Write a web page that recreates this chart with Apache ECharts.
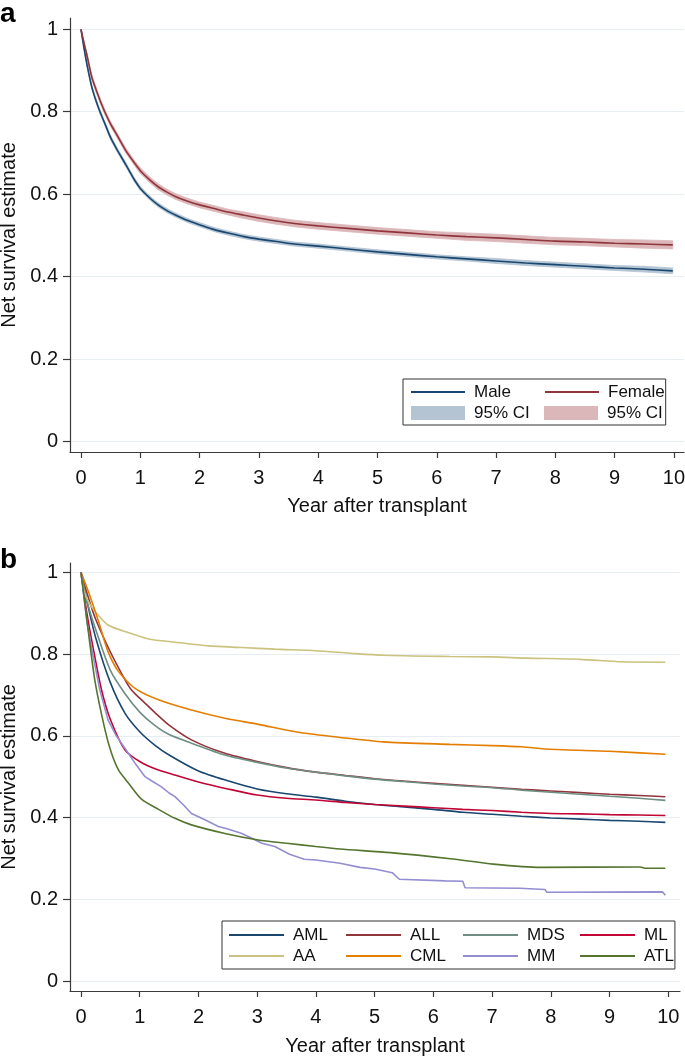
<!DOCTYPE html>
<html><head><meta charset="utf-8">
<script src="https://cdn.jsdelivr.net/npm/echarts@6/dist/echarts.min.js"></script>
<style>html,body{margin:0;padding:0;background:#fff}#c{width:685px;height:1063px}</style>
</head><body><div id="c"></div>
<script>
// ---------- Panel a: sex ----------
const topYears = [0, 0.05, 0.1, 0.18, 0.25, 0.32, 0.4, 0.5, 0.6, 0.75, 0.9, 1.0, 1.15, 1.3, 1.45, 1.6, 1.8, 2.0, 2.25, 2.5, 2.75, 3.0, 3.3, 3.6, 4.0, 4.5, 5.0, 5.5, 6.0, 6.5, 7.0, 7.5, 8.0, 8.5, 9.0, 9.5, 9.98];
const male   = [1, 0.955, 0.915, 0.861, 0.828, 0.800, 0.772, 0.737, 0.710, 0.673, 0.635, 0.614, 0.592, 0.574, 0.560, 0.549, 0.536, 0.526, 0.514, 0.505, 0.497, 0.491, 0.485, 0.479, 0.474, 0.467, 0.460, 0.454, 0.448, 0.443, 0.438, 0.433, 0.429, 0.425, 0.421, 0.418, 0.414];
const maleLo = [1, 0.951, 0.910, 0.856, 0.823, 0.795, 0.767, 0.732, 0.705, 0.668, 0.630, 0.609, 0.587, 0.569, 0.555, 0.544, 0.531, 0.521, 0.509, 0.500, 0.492, 0.486, 0.480, 0.474, 0.469, 0.462, 0.455, 0.449, 0.443, 0.438, 0.432, 0.427, 0.423, 0.419, 0.415, 0.411, 0.407];
const maleHi = [1, 0.959, 0.920, 0.866, 0.833, 0.805, 0.777, 0.742, 0.715, 0.678, 0.640, 0.619, 0.597, 0.579, 0.565, 0.554, 0.541, 0.531, 0.519, 0.510, 0.502, 0.496, 0.490, 0.484, 0.479, 0.472, 0.465, 0.459, 0.453, 0.448, 0.444, 0.439, 0.435, 0.431, 0.427, 0.425, 0.421];
const female   = [1, 0.967, 0.937, 0.885, 0.855, 0.828, 0.800, 0.770, 0.745, 0.707, 0.676, 0.657, 0.636, 0.618, 0.605, 0.594, 0.583, 0.574, 0.565, 0.556, 0.549, 0.542, 0.535, 0.529, 0.523, 0.517, 0.511, 0.506, 0.501, 0.497, 0.494, 0.490, 0.486, 0.484, 0.481, 0.479, 0.477];
const femaleLo = [1, 0.962, 0.931, 0.879, 0.849, 0.822, 0.794, 0.764, 0.739, 0.701, 0.670, 0.650, 0.629, 0.611, 0.598, 0.587, 0.576, 0.567, 0.558, 0.549, 0.541, 0.534, 0.527, 0.521, 0.515, 0.509, 0.503, 0.498, 0.493, 0.488, 0.485, 0.481, 0.477, 0.475, 0.472, 0.469, 0.467];
const femaleHi = [1, 0.972, 0.943, 0.891, 0.861, 0.834, 0.806, 0.776, 0.751, 0.713, 0.682, 0.664, 0.643, 0.625, 0.612, 0.601, 0.590, 0.581, 0.572, 0.563, 0.557, 0.550, 0.543, 0.537, 0.531, 0.525, 0.519, 0.514, 0.509, 0.506, 0.503, 0.499, 0.495, 0.493, 0.490, 0.489, 0.487];

// ---------- Panel b: disease ([year, estimate]) ----------
const aml = [[0,1],[0.1,0.93],[0.25,0.84],[0.5,0.73],[0.75,0.655],[1,0.61],[1.25,0.578],[1.5,0.553],[2,0.514],[2.5,0.49],[3,0.47],[3.5,0.458],[4,0.45],[4.5,0.44],[5,0.432],[5.5,0.426],[6,0.42],[6.5,0.413],[7,0.408],[7.5,0.403],[8,0.399],[8.5,0.396],[9,0.393],[9.5,0.391],[9.95,0.388]];
const all = [[0,1],[0.1,0.95],[0.25,0.885],[0.5,0.805],[0.75,0.737],[0.86,0.712],[1,0.692],[1.25,0.658],[1.5,0.626],[1.88,0.59],[2.45,0.557],[3,0.537],[3.5,0.522],[4,0.511],[4.5,0.503],[5,0.495],[5.5,0.489],[6,0.484],[6.5,0.479],[7,0.474],[7.5,0.469],[8,0.465],[8.5,0.461],[9,0.457],[9.5,0.454],[9.95,0.451]];
const mds = [[0,1],[0.1,0.93],[0.25,0.86],[0.5,0.76],[0.75,0.703],[1,0.658],[1.25,0.626],[1.5,0.603],[1.88,0.582],[2.45,0.553],[3,0.535],[3.5,0.521],[4,0.511],[4.5,0.502],[5,0.494],[5.5,0.488],[6,0.482],[6.5,0.477],[7,0.473],[7.5,0.467],[8,0.462],[8.5,0.457],[9,0.452],[9.5,0.447],[9.95,0.442]];
const ml  = [[0,1],[0.1,0.9],[0.2,0.82],[0.35,0.712],[0.5,0.64],[0.75,0.565],[1,0.537],[1.25,0.52],[1.6,0.504],[2,0.487],[2.5,0.47],[3,0.455],[3.5,0.447],[4,0.443],[4.5,0.437],[5,0.432],[5.5,0.428],[6,0.424],[6.5,0.42],[7,0.417],[7.5,0.413],[8,0.41],[8.5,0.409],[9,0.407],[9.5,0.406],[9.95,0.405]];
const aa  = [[0,1],[0.05,0.955],[0.125,0.928],[0.24,0.904],[0.46,0.871],[0.75,0.855],[1.15,0.837],[1.6,0.829],[2.17,0.82],[2.74,0.816],[3.3,0.812],[4,0.808],[4.58,0.802],[5.14,0.797],[6.28,0.794],[7,0.793],[7.6,0.79],[8.5,0.787],[9.2,0.781],[9.95,0.78]];
const cml = [[0,1],[0.125,0.953],[0.3,0.879],[0.46,0.806],[0.64,0.757],[0.92,0.716],[1.32,0.688],[1.88,0.663],[2.45,0.643],[3.02,0.628],[3.73,0.608],[4.41,0.596],[5.15,0.585],[6.28,0.579],[7,0.576],[7.5,0.573],[8,0.567],[9,0.562],[9.95,0.555]];
const mm  = [[0,1],[0.1,0.88],[0.2,0.8],[0.32,0.712],[0.46,0.639],[0.6,0.6],[0.75,0.569],[0.92,0.533],[1.09,0.5],[1.2,0.49],[1.37,0.475],[1.5,0.46],[1.6,0.451],[1.75,0.43],[1.88,0.41],[2.1,0.395],[2.34,0.378],[2.5,0.372],[2.74,0.361],[2.9,0.35],[3.08,0.337],[3.3,0.329],[3.55,0.31],[3.8,0.298],[4,0.296],[4.41,0.288],[4.75,0.278],[5,0.274],[5.3,0.265],[5.42,0.249],[6.2,0.245],[6.5,0.244],[6.54,0.228],[7.47,0.227],[7.5,0.224],[7.9,0.224],[7.93,0.217],[9.9,0.218],[9.95,0.21]];
const atl = [[0,1],[0.125,0.855],[0.24,0.732],[0.41,0.614],[0.52,0.557],[0.64,0.516],[0.81,0.484],[1.03,0.445],[1.32,0.42],[1.6,0.398],[1.88,0.382],[2.45,0.361],[3.02,0.345],[3.5,0.337],[4,0.329],[4.41,0.323],[5.27,0.314],[6.29,0.299],[7.02,0.286],[7.82,0.278],[9.52,0.279],[9.6,0.276],[9.95,0.276]];

const diseaseNames = ['AML','ALL','MDS','ML','AA','CML','MM','ATL'];
const diseaseData  = [aml, all, mds, ml, aa, cml, mm, atl];
const diseaseColors = ['#1a476f','#90353b','#6e8e84','#c10534','#cac27e','#e37e00','#938dd2','#55752f'];

const xTicks = [0,1,2,3,4,5,6,7,8,9,10];
const yTicks = [0,0.2,0.4,0.6,0.8,1];
const xTitle = 'Year after transplant';
const yTitle = 'Net survival estimate';

const FONT = '"Liberation Sans", Arial, Helvetica, sans-serif';
const TXT = '#111';
const AX = '#3a3a3a';

function pairs(t, v) { return t.map((x, i) => [x, v[i]]); }
// one quad per interval: [t0, lo0, hi0, t1, lo1, hi1]
function bandRows(t, lo, hi) {
  const rows = [];
  for (let i = 0; i < t.length - 1; i++) rows.push([t[i], lo[i], hi[i], t[i + 1], lo[i + 1], hi[i + 1]]);
  return rows;
}
function bandRenderer(color) {
  return function (params, api) {
    const a = api.coord([api.value(0), api.value(1)]);
    const b = api.coord([api.value(3), api.value(4)]);
    const c = api.coord([api.value(3), api.value(5)]);
    const d = api.coord([api.value(0), api.value(2)]);
    return { type: 'polygon', shape: { points: [a, b, c, d] },
             style: { fill: color, stroke: color, lineWidth: 0.8 } };
  };
}

function xAxisCfg(gi, min, max, gap) {
  return {
    type: 'value', gridIndex: gi, min, max,
    name: xTitle, nameLocation: 'middle', nameGap: gap,
    nameTextStyle: { fontFamily: FONT, fontSize: 20, color: TXT },
    axisLine: { show: true, onZero: false, lineStyle: { color: AX, width: 1.2 } },
    axisTick: { show: true, length: 6, customValues: xTicks, lineStyle: { color: AX, width: 1.2 } },
    axisLabel: { customValues: xTicks, margin: 16, fontFamily: FONT, fontSize: 20, color: TXT },
    splitLine: { show: false }
  };
}
function yAxisCfg(gi, min, max) {
  return {
    type: 'value', gridIndex: gi, min, max,
    name: yTitle, nameLocation: 'middle', nameGap: 48, nameRotate: 90,
    nameTextStyle: { fontFamily: FONT, fontSize: 20, color: TXT },
    axisLine: { show: true, onZero: false, lineStyle: { color: AX, width: 1.2 } },
    axisTick: { show: true, length: 7, customValues: yTicks, lineStyle: { color: AX, width: 1.2 } },
    axisLabel: { customValues: yTicks, margin: 12, fontFamily: FONT, fontSize: 20, color: TXT },
    splitLine: { show: true, customValues: yTicks, lineStyle: { color: '#e6eef1', width: 1.2 } }
  };
}

const CI_M_COLOR = '#b4c4d3';
const CI_F_COLOR = '#dcb7ba';
const SMOOTH = 0.25;
const series = [];
series.push({ type: 'custom', name: 'CI_M', xAxisIndex: 0, yAxisIndex: 0, data: bandRows(topYears, maleLo, maleHi),
  encode: { x: [0, 3], y: [1, 2, 4, 5] }, renderItem: bandRenderer(CI_M_COLOR), itemStyle: { color: CI_M_COLOR }, silent: true, z: 1 });
series.push({ type: 'custom', name: 'CI_F', xAxisIndex: 0, yAxisIndex: 0, data: bandRows(topYears, femaleLo, femaleHi),
  encode: { x: [0, 3], y: [1, 2, 4, 5] }, renderItem: bandRenderer(CI_F_COLOR), itemStyle: { color: CI_F_COLOR }, silent: true, z: 1 });
series.push({ type: 'line', name: 'Male', xAxisIndex: 0, yAxisIndex: 0, data: pairs(topYears, male),
  symbol: 'none', smooth: SMOOTH, lineStyle: { color: '#1a476f', width: 1.6 }, itemStyle: { color: '#1a476f' }, z: 3 });
series.push({ type: 'line', name: 'Female', xAxisIndex: 0, yAxisIndex: 0, data: pairs(topYears, female),
  symbol: 'none', smooth: SMOOTH, lineStyle: { color: '#90353b', width: 1.6 }, itemStyle: { color: '#90353b' }, z: 3 });

diseaseNames.forEach((nm, i) => {
  const stepped = (nm === 'MM');
  series.push({ type: 'line', name: nm, xAxisIndex: 1, yAxisIndex: 1, data: diseaseData[i],
    symbol: 'none', smooth: stepped ? false : SMOOTH,
    lineStyle: { color: diseaseColors[i], width: 1.6 }, itemStyle: { color: diseaseColors[i] }, z: 3 });
});

const legendText = { fontFamily: FONT, fontSize: 17, color: TXT, lineHeight: 20 };
const option = {
  backgroundColor: '#ffffff',
  animation: false,
  title: [
    { text: 'a', left: 0, top: 0, padding: 0, textStyle: { fontFamily: FONT, fontWeight: 'bold', fontSize: 28, color: '#000' } },
    { text: 'b', left: 0, top: 546, padding: 0, textStyle: { fontFamily: FONT, fontWeight: 'bold', fontSize: 28, color: '#000' } }
  ],
  grid: [
    { left: 70, top: 18, width: 614, height: 434, containLabel: false, outerBoundsMode: 'none' },
    { left: 70, top: 563, width: 610, height: 428, containLabel: false, outerBoundsMode: 'none' }
  ],
  xAxis: [xAxisCfg(0, -0.1855, 10.169, 44), xAxisCfg(1, -0.1873, 10.199, 45)],
  yAxis: [yAxisCfg(0, -0.0255, 1.0274), yAxisCfg(1, -0.0245, 1.0228)],
  legend: [
    {
      left: 403, top: 379, width: 260, orient: 'horizontal', padding: [3, 1, 2, 7], itemGap: 1,
      itemWidth: 54, itemHeight: 14, borderColor: '#333', borderWidth: 1, selectedMode: false,
      itemStyle: { opacity: 0 },
      data: [{ name: 'Male' }, { name: 'Female' },
             { name: 'CI_M', icon: 'rect', itemStyle: { color: CI_M_COLOR, opacity: 1 } },
             { name: 'CI_F', icon: 'rect', itemStyle: { color: CI_F_COLOR, opacity: 1 } }],
      formatter: n => {
        const label = n.startsWith('CI') ? '95% CI' : n;
        return (n === 'Male' || n === 'CI_M') ? '{w|' + label + '}' : '{n|' + label + '}';
      },
      textStyle: Object.assign({}, legendText, { rich: {
        w: Object.assign({ width: 69, padding: [0, 0, 0, 4] }, legendText),
        n: Object.assign({ padding: [0, 0, 0, 4] }, legendText) } })
    },
    {
      left: 222, top: 921, width: 450, orient: 'horizontal', padding: [4, 1, 3, 6], itemGap: 1,
      itemWidth: 55, itemHeight: 14, borderColor: '#333', borderWidth: 1, selectedMode: false,
      itemStyle: { opacity: 0 },
      data: diseaseNames,
      formatter: n => (n === 'ML' || n === 'ATL') ? '{n|' + n + '}' : '{w|' + n + '}',
      textStyle: Object.assign({}, legendText, { rich: {
        w: Object.assign({ width: 51, padding: [0, 0, 0, 4] }, legendText),
        n: Object.assign({ padding: [0, 0, 0, 4] }, legendText) } })
    }
  ],
  series
};
const chart = echarts.init(document.getElementById('c'), null, { renderer: 'canvas' });
chart.setOption(option);
</script></body></html>
